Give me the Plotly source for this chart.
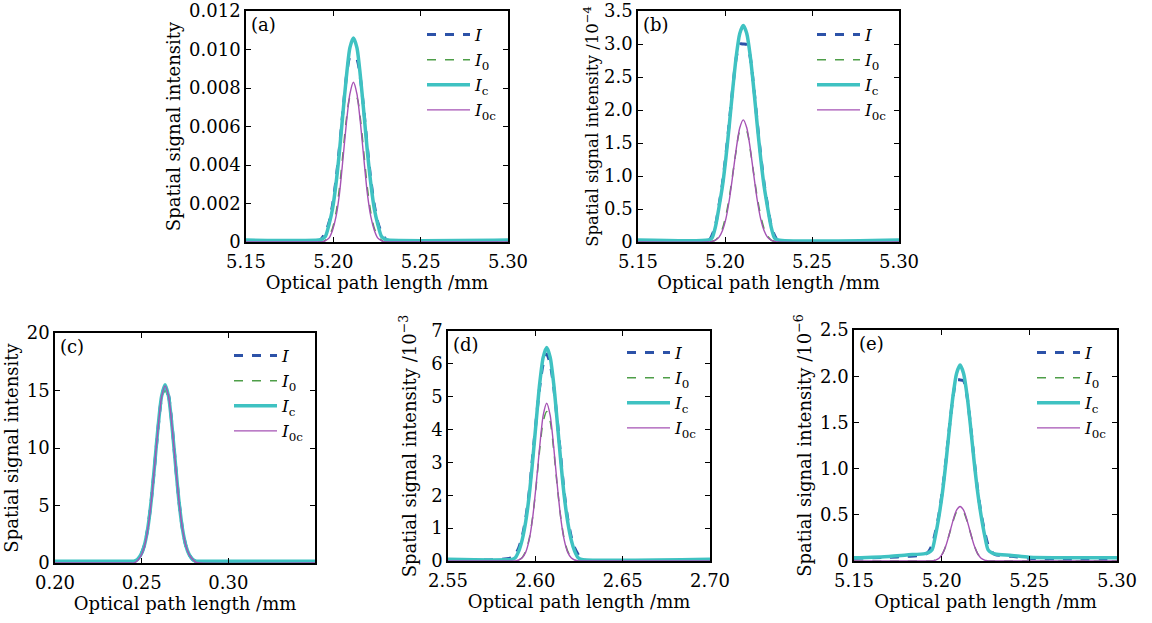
import plotly.graph_objects as go

FONT = "DejaVu Serif"

# ---------------- data ----------------
# (a)
xa = [5.15, 5.1915, 5.1935, 5.1955, 5.1975, 5.1995, 5.2015, 5.2035, 5.2055, 5.2075, 5.2095, 5.2115,
      5.2135, 5.2155, 5.2175, 5.2195, 5.2215, 5.2235, 5.2255, 5.2275, 5.2295, 5.2315, 5.30]
Ia = [0, 0, 0.0002, 0.0005, 0.0010, 0.0019, 0.0032, 0.0049, 0.0068, 0.0086, 0.0096, 0.0096,
      0.0095, 0.0085, 0.0068, 0.0049, 0.0032, 0.0019, 0.0010, 0.0005, 0.0002, 0, 0]
I0a = [0, 0, 0, 0.0001, 0.0003, 0.0007, 0.0015, 0.0028, 0.0046, 0.0064, 0.0075, 0.0076,
       0.0075, 0.0064, 0.0046, 0.0028, 0.0015, 0.0007, 0.0003, 0.0001, 0, 0, 0]
Ica = [0.0001, 0.0001, 0.00015, 0.0003, 0.0009, 0.0017, 0.0030, 0.0047, 0.0067, 0.0086, 0.0101, 0.0106,
       0.0101, 0.0086, 0.0067, 0.0047, 0.0030, 0.0017, 0.0009, 0.0003, 0.00015, 0.0001, 0.0001]
I0ca = [0, 0, 0, 0.00007, 0.0002, 0.0006, 0.0013, 0.0025, 0.0043, 0.0062, 0.0077, 0.0083,
        0.0077, 0.0062, 0.0043, 0.0025, 0.0013, 0.0006, 0.0002, 0.00007, 0, 0, 0]

# (b)  (units of 1e-4)
xb = [5.15, 5.1905, 5.1925, 5.1945, 5.1965, 5.1985, 5.2005, 5.2025, 5.2045, 5.2065, 5.2085, 5.2105,
      5.2125, 5.2145, 5.2165, 5.2185, 5.2205, 5.2225, 5.2245, 5.2265, 5.2285, 5.2305, 5.30]
Ib = [0, 0.02, 0.10, 0.25, 0.55, 0.88, 1.32, 1.82, 2.35, 2.80, 3.00, 3.00,
      2.99, 2.80, 2.35, 1.82, 1.32, 0.88, 0.55, 0.25, 0.10, 0.02, 0]
I0b = [0, 0, 0.01, 0.03, 0.09, 0.20, 0.40, 0.68, 1.04, 1.40, 1.68, 1.70,
       1.68, 1.40, 1.04, 0.68, 0.40, 0.20, 0.09, 0.03, 0.01, 0, 0]
Icb = [0.03, 0.03, 0.06, 0.23, 0.52, 0.84, 1.27, 1.78, 2.33, 2.82, 3.16, 3.28,
       3.16, 2.82, 2.33, 1.78, 1.27, 0.84, 0.52, 0.23, 0.06, 0.03, 0.03]
I0cb = [0, 0, 0.01, 0.03, 0.07, 0.17, 0.35, 0.64, 1.02, 1.42, 1.73, 1.85,
        1.73, 1.42, 1.02, 0.64, 0.35, 0.17, 0.07, 0.03, 0.01, 0, 0]

# (c)
xc = [0.20, 0.2435, 0.2455, 0.2475, 0.2495, 0.2515, 0.2535, 0.2555, 0.2575, 0.2595, 0.2615, 0.2635,
      0.2655, 0.2675, 0.2695, 0.2715, 0.2735, 0.2755, 0.2775, 0.2795, 0.2815, 0.2835, 0.35]
Ic_ = [0, 0, 0.1, 0.3, 0.7, 1.5, 3.0, 5.4, 8.5, 11.8, 14.4, 15.4,
       14.6, 12.0, 8.6, 5.4, 3.0, 1.5, 0.7, 0.3, 0.1, 0, 0]
I0c_ = [0, 0, 0.05, 0.25, 0.7, 1.5, 3.0, 5.4, 8.5, 11.8, 14.3, 15.0,
        14.2, 11.6, 8.3, 5.2, 2.9, 1.4, 0.6, 0.2, 0.05, 0, 0]
Icc = [0.15, 0.15, 0.15, 0.3, 0.7, 1.5, 3.0, 5.4, 8.6, 11.9, 14.5, 15.5,
       14.5, 11.9, 8.6, 5.4, 3.0, 1.5, 0.7, 0.3, 0.15, 0.15, 0.15]
I0cc = [0, 0, 0, 0.2, 0.6, 1.4, 2.9, 5.3, 8.5, 11.8, 14.4, 15.4,
        14.5, 11.9, 8.6, 5.4, 3.0, 1.5, 0.7, 0.3, 0.05, 0, 0]

# (d)  (units of 1e-3)
xd = [2.55, 2.5865, 2.5885, 2.5905, 2.5925, 2.5945, 2.5965, 2.5985, 2.6005, 2.6025, 2.6045, 2.6065,
      2.6085, 2.6105, 2.6125, 2.6145, 2.6165, 2.6185, 2.6205, 2.6225, 2.6245, 2.6265, 2.70]
Id = [0, 0.1, 0.2, 0.4, 0.75, 1.3, 2.1, 3.2, 4.3, 5.3, 6.0, 6.3,
      6.0, 5.3, 4.3, 3.2, 2.1, 1.3, 0.75, 0.4, 0.2, 0.05, 0]
I0d = [0, 0, 0, 0.03, 0.11, 0.3, 0.68, 1.35, 2.3, 3.4, 4.25, 4.55,
       4.25, 3.4, 2.3, 1.35, 0.68, 0.3, 0.11, 0.03, 0, 0, 0]
Icd = [0.05, 0.05, 0.1, 0.3, 0.65, 1.2, 2.0, 3.07, 4.26, 5.4, 6.2, 6.5,
       6.2, 5.4, 4.26, 3.07, 2.0, 1.2, 0.65, 0.3, 0.1, 0.05, 0.05]
I0cd = [0, 0, 0, 0.03, 0.1, 0.27, 0.65, 1.33, 2.34, 3.48, 4.43, 4.8,
        4.43, 3.48, 2.34, 1.33, 0.65, 0.27, 0.1, 0.03, 0, 0, 0]

# (e)  (units of 1e-6)
xe = [5.15, 5.17, 5.18, 5.1905, 5.1925, 5.1945, 5.1965, 5.1985, 5.2005, 5.2025, 5.2045, 5.2065, 5.2085,
      5.2105, 5.2125, 5.2145, 5.2165, 5.2185, 5.2205, 5.2225, 5.2245, 5.2265, 5.2285, 5.2305,
      5.24, 5.25, 5.27, 5.30]
Ie = [0.03, 0.04, 0.05, 0.07, 0.10, 0.17, 0.32, 0.51, 0.77, 1.10, 1.46, 1.78, 1.96,
      1.96, 1.95, 1.78, 1.46, 1.10, 0.77, 0.51, 0.32, 0.17, 0.10, 0.07,
      0.05, 0.03, 0.02, 0.02]
I0e = [0, 0, 0, 0, 0, 0, 0.01, 0.03, 0.08, 0.17, 0.30, 0.43, 0.53,
       0.54, 0.53, 0.43, 0.30, 0.17, 0.08, 0.03, 0.01, 0, 0, 0,
       0, 0, 0, 0]
Ice = [0.035, 0.05, 0.065, 0.08, 0.09, 0.12, 0.28, 0.49, 0.75, 1.08, 1.45, 1.79, 2.03,
       2.12, 2.03, 1.79, 1.45, 1.08, 0.75, 0.49, 0.28, 0.12, 0.09, 0.075,
       0.06, 0.04, 0.035, 0.035]
I0ce = [0, 0, 0, 0, 0, 0, 0.01, 0.03, 0.08, 0.17, 0.30, 0.44, 0.55,
        0.59, 0.55, 0.44, 0.30, 0.17, 0.08, 0.03, 0.01, 0, 0, 0,
        0, 0, 0, 0]

series_names = ["<i>I</i>", "<i>I</i><sub>0</sub>", "<i>I</i><sub>c</sub>", "<i>I</i><sub>0c</sub>"]
series_styles = [
    dict(color="#2c52a8", width=3, dash="dash"),
    dict(color="#4e9e48", width=1.5, dash="dash"),
    dict(color="#3fc2c2", width=3.5, dash="solid"),
    dict(color="#a552b4", width=1.4, dash="solid"),
]

# tick definitions
xticks_a = [5.15, 5.20, 5.25, 5.30]
xtick_text_a = ["5.15", "5.20", "5.25", "5.30"]
xticks_c = [0.20, 0.25, 0.30]
xtick_text_c = ["0.20", "0.25", "0.30"]
xticks_d = [2.55, 2.60, 2.65, 2.70]
xtick_text_d = ["2.55", "2.60", "2.65", "2.70"]
yticks_a = [0, 0.002, 0.004, 0.006, 0.008, 0.010, 0.012]
ytick_text_a = ["0", "0.002", "0.004", "0.006", "0.008", "0.010", "0.012"]
yticks_b = [0, 0.5, 1.0, 1.5, 2.0, 2.5, 3.0, 3.5]
ytick_text_b = ["0", "0.5", "1.0", "1.5", "2.0", "2.5", "3.0", "3.5"]
yticks_c = [0, 5, 10, 15, 20]
ytick_text_c = ["0", "5", "10", "15", "20"]
yticks_d = [0, 1, 2, 3, 4, 5, 6, 7]
ytick_text_d = ["0", "1", "2", "3", "4", "5", "6", "7"]
yticks_e = [0, 0.5, 1.0, 1.5, 2.0, 2.5]
ytick_text_e = ["0", "0.5", "1.0", "1.5", "2.0", "2.5"]

YT = "Spatial signal intensity"
XT = "Optical path length /mm"

panels = [
    dict(label="(a)", x=xa, ys=[Ia, I0a, Ica, I0ca], xr=[5.15, 5.30], yr=[0, 0.012],
         xt=(xticks_a, xtick_text_a), yt=(yticks_a, ytick_text_a), ytitle=YT, ysize=18,
         dom_x=[246, 508], dom_y=[11, 242], leg=(422, 17), ystand=4),
    dict(label="(b)", x=xb, ys=[Ib, I0b, Icb, I0cb], xr=[5.15, 5.30], yr=[0, 3.5],
         xt=(xticks_a, xtick_text_a), yt=(yticks_b, ytick_text_b),
         ytitle=YT + " /10<sup>−4</sup>", ysize=16.5,
         dom_x=[638, 899], dom_y=[11, 242], leg=(812, 17), ystand=1),
    dict(label="(c)", x=xc, ys=[Ic_, I0c_, Icc, I0cc], xr=[0.20, 0.35], yr=[0, 20],
         xt=(xticks_c, xtick_text_c), yt=(yticks_c, ytick_text_c), ytitle=YT, ysize=18,
         dom_x=[55, 315], dom_y=[333, 563], leg=(229, 338), ystand=3),
    dict(label="(d)", x=xd, ys=[Id, I0d, Icd, I0cd], xr=[2.55, 2.70], yr=[0, 7],
         xt=(xticks_d, xtick_text_d), yt=(yticks_d, ytick_text_d),
         ytitle=YT + " /10<sup>−3</sup>", ysize=18,
         dom_x=[448, 710], dom_y=[331, 561], leg=(622, 335), ystand=10),
    dict(label="(e)", x=xe, ys=[Ie, I0e, Ice, I0ce], xr=[5.15, 5.30], yr=[0, 2.5],
         xt=(xticks_a, xtick_text_a), yt=(yticks_e, ytick_text_e),
         ytitle=YT + " /10<sup>−6</sup>", ysize=18,
         dom_x=[854, 1117], dom_y=[330, 561], leg=(1032, 335), ystand=4),
]

W, H = 1152, 623
fig = go.Figure()
layout = dict(width=W, height=H, margin=dict(l=0, r=0, t=0, b=0, autoexpand=False),
              paper_bgcolor="white", plot_bgcolor="white",
              font=dict(family=FONT, color="black", size=17), annotations=[])

for i, p in enumerate(panels, start=1):
    sfx = "" if i == 1 else str(i)
    legname = "legend" if i == 1 else f"legend{i}"
    for name, style, y in zip(series_names, series_styles, p["ys"]):
        fig.add_trace(go.Scatter(
            x=p["x"], y=y, mode="lines", name=name,
            line=dict(color=style["color"], width=style["width"], dash=style["dash"],
                      shape="spline", smoothing=0.7),
            xaxis=f"x{sfx}", yaxis=f"y{sfx}", legend=legname, showlegend=True))
    axcommon = dict(showline=True, linecolor="black", linewidth=1.5, mirror="ticks",
                    ticks="inside", ticklen=5, tickwidth=1, tickcolor="black",
                    showgrid=False, zeroline=False, automargin=False,
                    tickfont=dict(family=FONT, size=18, color="black"))
    layout[f"xaxis{sfx}"] = dict(
        axcommon, domain=[p["dom_x"][0] / W, p["dom_x"][1] / W], range=p["xr"],
        anchor=f"y{sfx}", tickvals=p["xt"][0], ticktext=p["xt"][1], ticklabelstandoff=3,
        title=dict(text=XT, font=dict(family=FONT, size=18), standoff=2))
    layout[f"yaxis{sfx}"] = dict(
        axcommon, domain=[1 - p["dom_y"][1] / H, 1 - p["dom_y"][0] / H], range=p["yr"],
        anchor=f"x{sfx}", tickvals=p["yt"][0], ticktext=p["yt"][1],
        title=dict(text=p["ytitle"], font=dict(family=FONT, size=p["ysize"]), standoff=p["ystand"]))
    layout[legname] = dict(x=p["leg"][0] / W, y=1 - p["leg"][1] / H, xanchor="left", yanchor="top",
                           bgcolor="rgba(0,0,0,0)", borderwidth=0, tracegroupgap=0, itemwidth=43,
                           font=dict(family=FONT, size=17, color="black"))
    layout["annotations"].append(dict(
        text=p["label"], xref=f"x{sfx} domain", yref=f"y{sfx} domain", x=0.01, y=0.995,
        xanchor="left", yanchor="top", showarrow=False,
        font=dict(family=FONT, size=18, color="black")))

fig.update_layout(**layout)
fig.write_html("out.html", config={"displayModeBar": False},
               post_script="document.body.style.margin='0';")
